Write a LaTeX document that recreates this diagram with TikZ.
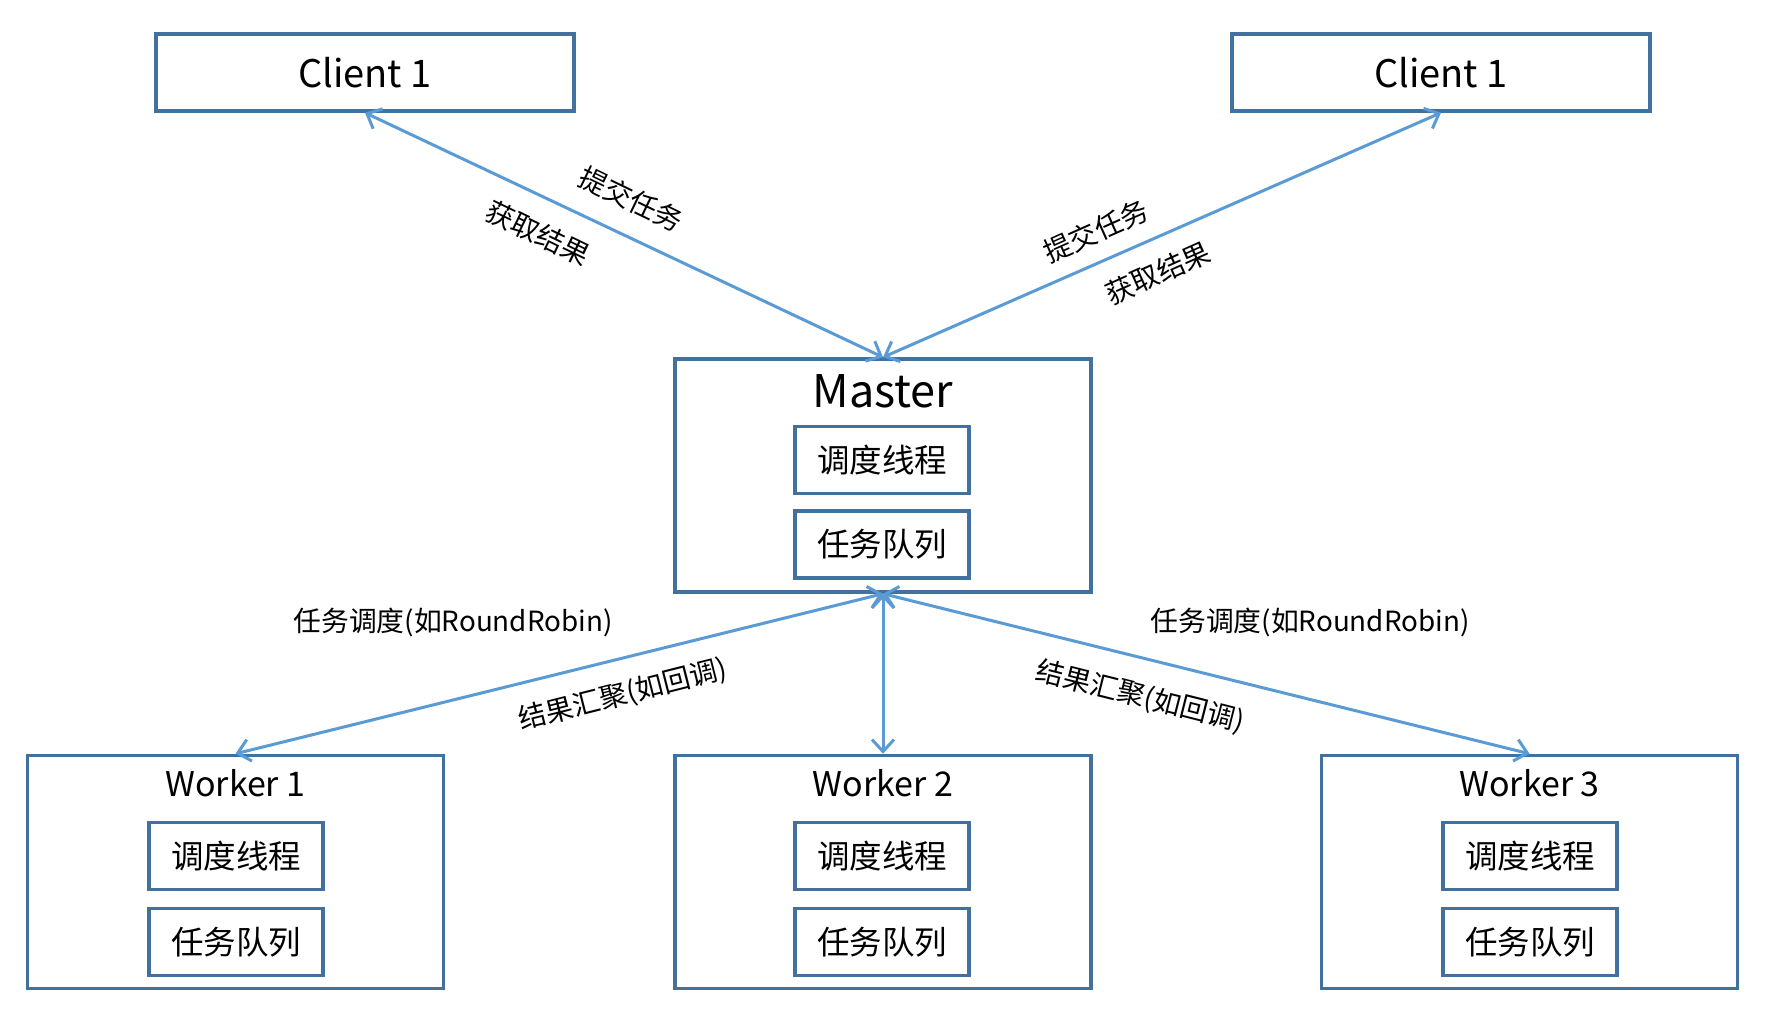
\documentclass[tikz,border=0pt]{standalone}
\usepackage{fontspec}
\setmainfont{Noto Sans CJK SC}
\usetikzlibrary{arrows.meta,calc}
\definecolor{boxc}{HTML}{41719C}
\definecolor{arrc}{HTML}{5B9BD5}
\begin{document}
\begin{tikzpicture}[x=1pt,y=-1pt,
  box/.style={draw=boxc, line width=3.5pt, fill=white, inner sep=0pt, rectangle},
  client/.style={box, minimum width=418pt, minimum height=77pt, font=\fontsize{38pt}{40pt}\selectfont},
  big/.style={box, minimum width=416pt, minimum height=233pt},
  inner/.style={box, minimum width=174pt, minimum height=67pt, font=\fontsize{32.5pt}{34pt}\selectfont},
  mtitle/.style={inner sep=0pt, font=\fontsize{45pt}{47pt}\selectfont},
  wtitle/.style={inner sep=0pt, font=\fontsize{34pt}{36pt}\selectfont},
  lbl/.style={inner sep=0pt, font=\fontsize{27.8pt}{29pt}\selectfont},
  conn/.style={draw=arrc, line width=3pt, {Straight Barb[length=12pt,width=22pt]}-{Straight Barb[length=12pt,width=22pt]}}
]
\useasboundingbox[fill=white] (0,0) rectangle (1772,1030);

% clients
\node[client] (c1) at (365,72.5) {Client 1};
\node[client] (c2) at (1441,72.5) {Client 1};

% master
\node[big] (m) at (883,475.5) {};
\node[mtitle] (mt) at (883,391) {Master};
\node[inner] (ms) at (882,460) {调度线程};
\node[inner] (mq) at (882,544.5) {任务队列};

% workers
\node[big] (w1) at (235.5,872) {};
\node[wtitle] (w1t) at (235.5,783) {Worker 1};
\node[inner] (w1s) at (236,856) {调度线程};
\node[inner] (w1q) at (236,942) {任务队列};

\node[big] (w2) at (883,872) {};
\node[wtitle] (w2t) at (883,783) {Worker 2};
\node[inner] (w2s) at (882,856) {调度线程};
\node[inner] (w2q) at (882,942) {任务队列};

\node[big] (w3) at (1529.5,872) {};
\node[wtitle] (w3t) at (1529.5,783) {Worker 3};
\node[inner] (w3s) at (1530,856) {调度线程};
\node[inner] (w3q) at (1530,942) {任务队列};

% connectors
\draw[conn] (c1.south) -- (m.north);
\draw[conn] (m.north) -- (c2.south);
\draw[conn] (m.south) -- (w1.north);
\draw[conn] (m.south) -- (w2.north);
\draw[conn] (m.south) -- (w3.north);

% labels
\node[lbl, rotate=-25.8] (l1) at (631,199) {提交任务};
\node[lbl, rotate=-25.8] (l2) at (538,233) {获取结果};
\node[lbl, rotate=24] (l3) at (1096,231) {提交任务};
\node[lbl, rotate=24] (l4) at (1158,273) {获取结果};
\node[lbl] (l5) at (453,622) {任务调度(如RoundRobin)};
\node[lbl, rotate=14.2] (l6) at (623,695) {结果汇聚(如回调)};
\node[lbl] (l7) at (1310,622) {任务调度(如RoundRobin)};
\node[lbl, rotate=-14.2] (l8) at (1140,697) {结果汇聚(如回调)};
\end{tikzpicture}
\end{document}
